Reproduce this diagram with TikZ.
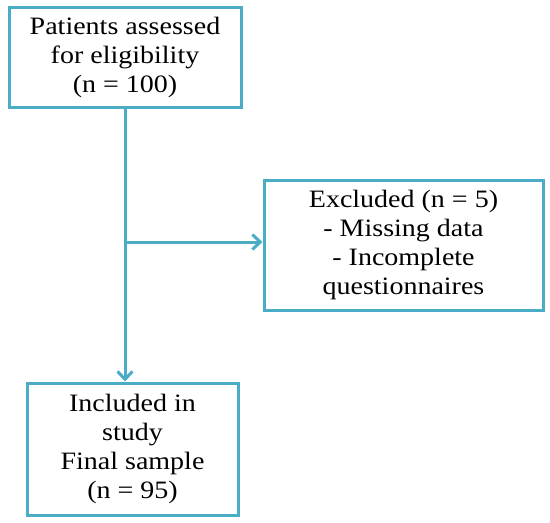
\documentclass[tikz,border=0pt]{standalone}
\usepackage{fontspec}
\setmainfont{Liberation Serif}[FakeStretch=1.12]
\usetikzlibrary{arrows.meta}
\definecolor{boxblue}{RGB}{75,172,198}
\begin{document}
\begin{tikzpicture}[x=1pt,y=-1pt,
  box/.style={draw=boxblue,line width=3pt,fill=white,align=center,font=\fontsize{25}{29}\selectfont,inner sep=0pt},
  conn/.style={draw=boxblue,line width=3pt},
  arr/.style={conn,-{Straight Barb[length=8pt,width=15pt,line width=3pt]}}]
\useasboundingbox (0,0) rectangle (550,523);
\node[box,minimum width=232pt,minimum height=100pt] (elig) at (125,57) {Patients assessed\\for eligibility\\(n = 100)};
\node[box,minimum width=279pt,minimum height=130pt] (excl) at (403.5,245) {Excluded (n = 5)\\- Missing data\\- Incomplete\\questionnaires};
\node[box,minimum width=211pt,minimum height=132pt] (incl) at (132.5,449) {Included in\\study\\Final sample\\(n = 95)};
\coordinate (split) at (125,242);
\draw[conn] (elig.south -| split) -- (split);
\draw[arr] (split) -- (split -| excl.west);
\draw[arr] (split) -- (split |- incl.north);
\end{tikzpicture}
\end{document}
